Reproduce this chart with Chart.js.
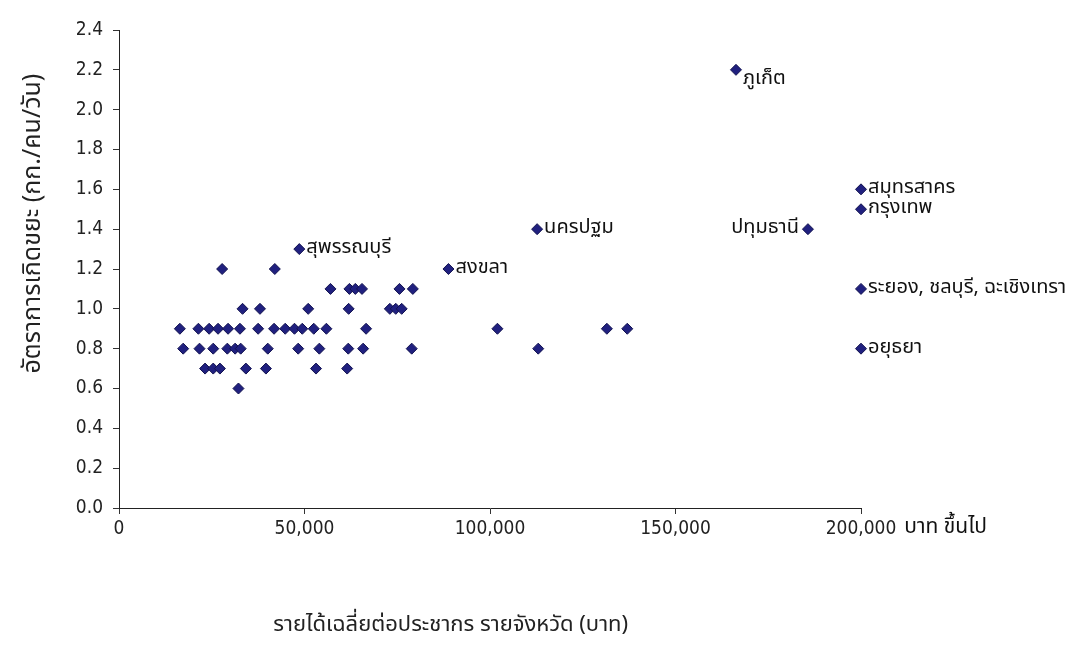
<!DOCTYPE html>
<html lang="th">
<head>
<meta charset="UTF-8" />
<title>รายได้เฉลี่ยกับอัตราการเกิดขยะ</title>
<style>
    body {
        margin: 0;
        background: #ffffff;
    }
    #wrap {
        width: 1084px;
        height: 657px;
    }
</style>
</head>
<body>
<div id="wrap"><canvas id="scatter"></canvas></div>
<script src="https://cdn.jsdelivr.net/npm/chart.js@4.4.1/dist/chart.umd.min.js"></script>
<script>
// provinces without a name tag: income per head (baht) and waste rate (kg/person/day)
const income = [
    32200,
    23200, 25400, 27200, 34200, 39600, 53100, 61500,
    17300, 21700, 25400, 29200, 31300, 32800, 40100, 48300, 54000, 61800, 65800, 78900, 113000,
    16400, 21400, 24300, 26700, 29400, 32600, 37500, 41800, 44800, 47300, 49400, 52500, 55900, 66600, 102000, 131500, 137000,
    33300, 38000, 51000, 61900, 73000, 74600, 76200,
    57000, 62100, 63700, 65500, 75600, 79200,
    27800, 42000
];
const waste = [
    0.6,
    0.7, 0.7, 0.7, 0.7, 0.7, 0.7, 0.7,
    0.8, 0.8, 0.8, 0.8, 0.8, 0.8, 0.8, 0.8, 0.8, 0.8, 0.8, 0.8, 0.8,
    0.9, 0.9, 0.9, 0.9, 0.9, 0.9, 0.9, 0.9, 0.9, 0.9, 0.9, 0.9, 0.9, 0.9, 0.9, 0.9, 0.9,
    1.0, 1.0, 1.0, 1.0, 1.0, 1.0, 1.0,
    1.1, 1.1, 1.1, 1.1, 1.1, 1.1,
    1.2, 1.2
];

// provinces that carry a name tag
const namedProvinces = ['ภูเก็ต', 'สมุทรสาคร', 'กรุงเทพ', 'ปทุมธานี', 'นครปฐม', 'สุพรรณบุรี', 'สงขลา', 'ระยอง, ชลบุรี, ฉะเชิงเทรา', 'อยุธยา'];
const namedIncome = [166300, 200000, 200000, 185700, 112700, 48600, 88800, 200000, 200000];
const namedWaste = [2.2, 1.6, 1.5, 1.4, 1.4, 1.3, 1.2, 1.1, 0.8];

const xTicks = [0, 50000, 100000, 150000, 200000];
const yTicks = [0, 0.2, 0.4, 0.6, 0.8, 1.0, 1.2, 1.4, 1.6, 1.8, 2.0, 2.2, 2.4];
const lastTickSuffix = 'บาท ขึ้นไป';

const xTitle = 'รายได้เฉลี่ยต่อประชากร รายจังหวัด (บาท)';
const yTitle = 'อัตราการเกิดขยะ (กก./คน/วัน)';

const narrowFont = "'DejaVu Sans Condensed', 'Liberation Sans Narrow', Arial, sans-serif";
const thaiFont = "Tahoma, 'Noto Sans Thai', 'Loma', 'Garuda', 'DejaVu Sans', sans-serif";

const toPoints = (xs, ys) => xs.map((x, i) => ({ x: x, y: ys[i] }));

// name tags, the "บาท ขึ้นไป" suffix and both axis titles
const annotations = {
    id: 'annotations',
    afterDatasetsDraw(chart) {
        const ctx = chart.ctx;
        const area = chart.chartArea;
        const meta = chart.getDatasetMeta(1);
        ctx.save();
        ctx.fillStyle = '#111111';

        ctx.font = '20px ' + thaiFont;
        ctx.textBaseline = 'middle';
        meta.data.forEach((pt, i) => {
            const name = namedProvinces[i];
            const onLeft = name === 'ปทุมธานี';
            const dy = name === 'ภูเก็ต' ? 10 : 0;
            ctx.textAlign = onLeft ? 'right' : 'left';
            ctx.fillText(name, pt.x + (onLeft ? -9 : 7), pt.y + dy);
        });

        const xs = chart.scales.x;
        const px = xs.getPixelForValue(xTicks[xTicks.length - 1]);
        ctx.font = '19px ' + narrowFont;
        const w = ctx.measureText('200,000').width;
        ctx.font = '21px ' + thaiFont;
        ctx.textAlign = 'left';
        ctx.textBaseline = 'middle';
        ctx.fillText(lastTickSuffix, px + w / 2 + 8, xs.top + 21);

        ctx.fillStyle = '#222222';
        ctx.font = '22px ' + thaiFont;
        ctx.textAlign = 'center';
        ctx.fillText(xTitle, area.left + (area.right - area.left) * 0.447, area.bottom + 119);

        ctx.font = '25px ' + thaiFont;
        ctx.translate(area.left - 84, area.top + (area.bottom - area.top) * 0.405);
        ctx.rotate(-Math.PI / 2);
        ctx.fillText(yTitle, 0, 0);
        ctx.restore();
    }
};

const diamond = {
    pointStyle: 'rectRot',
    pointRadius: 5.5,
    pointHoverRadius: 5.5,
    backgroundColor: '#20207f',
    borderColor: '#12124f',
    borderWidth: 1,
    clip: false
};

new Chart(document.getElementById('scatter'), {
    type: 'scatter',
    data: {
        datasets: [
            Object.assign({ label: 'จังหวัด', data: toPoints(income, waste) }, diamond),
            Object.assign({ label: 'จังหวัดที่ระบุชื่อ', data: toPoints(namedIncome, namedWaste) }, diamond)
        ]
    },
    options: {
        responsive: true,
        maintainAspectRatio: false,
        animation: false,
        layout: { padding: { top: 30, right: 223, bottom: 0, left: 0 } },
        plugins: {
            legend: { display: false },
            tooltip: { enabled: false }
        },
        scales: {
            x: {
                type: 'linear',
                min: 0,
                max: 200000,
                afterFit: (scale) => { scale.height = 149; },
                afterBuildTicks: (scale) => { scale.ticks = xTicks.map(v => ({ value: v })); },
                ticks: {
                    font: { family: narrowFont, size: 19 },
                    color: '#222222',
                    padding: 4,
                    maxRotation: 0,
                    callback: (v) => v.toLocaleString('en-US')
                },
                grid: { drawOnChartArea: false, drawTicks: true, tickLength: 6, color: '#333333' },
                border: { display: true, color: '#222222', width: 1 }
            },
            y: {
                type: 'linear',
                min: 0,
                max: 2.4,
                afterFit: (scale) => { scale.width = 119; },
                afterBuildTicks: (scale) => { scale.ticks = yTicks.map(v => ({ value: v })); },
                ticks: {
                    font: { family: narrowFont, size: 19 },
                    color: '#222222',
                    padding: 10,
                    callback: (v) => Number(v).toFixed(1)
                },
                grid: { drawOnChartArea: false, drawTicks: true, tickLength: 6, color: '#333333' },
                border: { display: true, color: '#222222', width: 1 }
            }
        }
    },
    plugins: [annotations]
});
</script>
</body>
</html>
